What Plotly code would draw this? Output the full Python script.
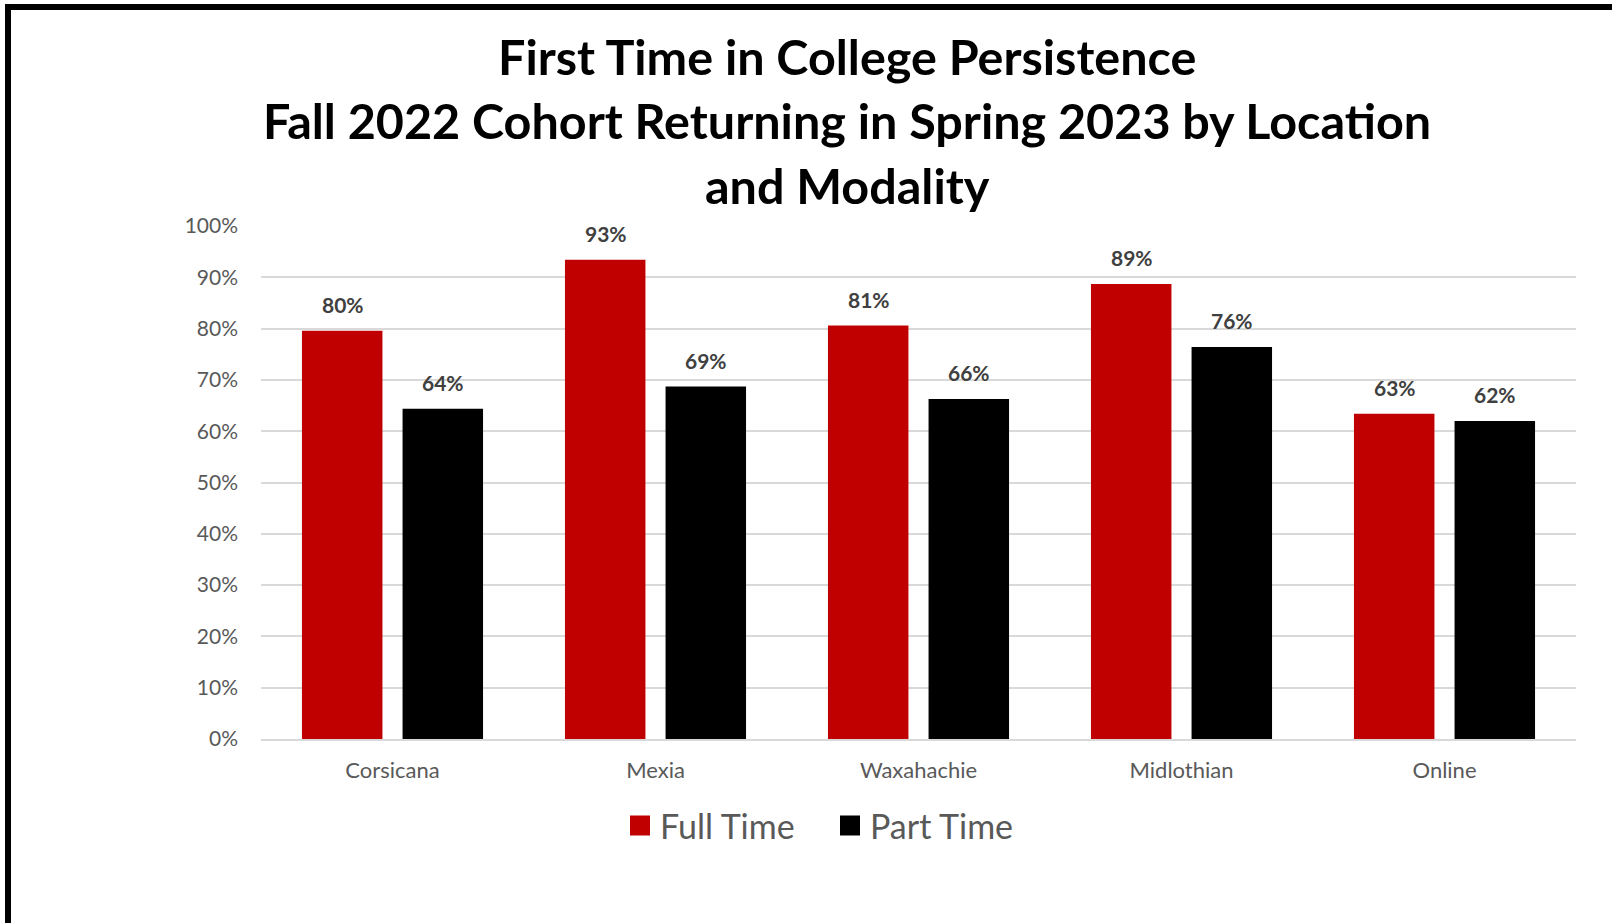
import plotly.graph_objects as go

# ---- data ----
locations = ["Corsicana", "Mexia", "Waxahachie", "Midlothian", "Online"]
full_time = [79.6, 93.4, 80.6, 88.7, 63.4]
part_time = [64.4, 68.7, 66.3, 76.4, 62.0]
series_names = ["Full Time", "Part Time"]
tick_vals = [0, 10, 20, 30, 40, 50, 60, 70, 80, 90, 100]
tick_text = [f"{v}%" for v in tick_vals]
title_lines = [
    "First Time in College Persistence",
    "Fall 2022 Cohort Returning in Spring 2023 by Location",
    "and Modality",
]

# ---- style ----
W, H = 1612, 923
ML, MR, MT, MB = 261, 36, 226, 184
PW = W - ML - MR
PH = H - MT - MB
RED = "#C00000"
BLK = "#000000"
FONT = "Lato"
GRID = "#d9d9d9"


def px_to_paper_x(px):
    return (px - ML) / PW


def px_to_paper_y(py):
    return (H - MB - py) / PH


fig = go.Figure()
for name, vals, col in [(series_names[0], full_time, RED), (series_names[1], part_time, BLK)]:
    fig.add_trace(go.Bar(
        x=locations, y=vals, name=name, marker=dict(color=col, line=dict(width=0)),
        showlegend=False, hoverinfo="skip",
    ))
    # legend entry with larger square
    fig.add_trace(go.Scatter(
        x=[None], y=[None], mode="markers", name=name,
        marker=dict(symbol="square", size=16, color=col, line=dict(color=col, width=4)),
        showlegend=True,
    ))

# data labels
for vals, shift in [(full_time, -50), (part_time, 50)]:
    for loc, v in zip(locations, vals):
        fig.add_annotation(
            x=loc, y=v, xref="x", yref="y", text=f"{v:.0f}%", showarrow=False,
            xshift=shift, yshift=12, yanchor="bottom",
            font=dict(family=FONT, size=21, color="#404040", weight="bold"),
        )

# title lines
for txt, yc in zip(title_lines, [56, 120, 185]):
    fig.add_annotation(
        x=px_to_paper_x(847), y=px_to_paper_y(yc), xref="paper", yref="paper",
        text=f"<b>{txt}</b>", showarrow=False, xanchor="center", yanchor="middle",
        font=dict(family=FONT, size=48.5, color="#000000"),
    )

# frame (top & left edges)
fig.add_shape(type="line", xref="paper", yref="paper",
              x0=px_to_paper_x(5), x1=px_to_paper_x(W + 5),
              y0=px_to_paper_y(7), y1=px_to_paper_y(7),
              line=dict(color="black", width=6))
fig.add_shape(type="line", xref="paper", yref="paper",
              x0=px_to_paper_x(8), x1=px_to_paper_x(8),
              y0=px_to_paper_y(4), y1=px_to_paper_y(H + 5),
              line=dict(color="black", width=6))

fig.update_layout(
    width=W, height=H,
    margin=dict(l=ML, r=MR, t=MT, b=MB, pad=0),
    paper_bgcolor="white", plot_bgcolor="white",
    barmode="group", bargap=0.235, bargroupgap=0.2,
    font=dict(family=FONT, color="#595959"),
    legend=dict(
        orientation="h", x=px_to_paper_x(830), xanchor="center",
        y=px_to_paper_y(826), yanchor="middle",
        font=dict(family=FONT, size=34, color="#595959"),
        itemsizing="trace", bgcolor="rgba(0,0,0,0)",
        entrywidth=165, entrywidthmode="pixels",
    ),
    xaxis=dict(
        showgrid=False, showline=True, linecolor=GRID, linewidth=2,
        ticks="", tickfont=dict(family=FONT, size=22, color="#595959"),
        ticklabelstandoff=11, fixedrange=True,
    ),
    yaxis=dict(
        range=[0, 100], tickvals=tick_vals, ticktext=tick_text,
        showgrid=True, gridcolor=GRID, gridwidth=1.5, zeroline=False,
        showline=False, ticks="",
        tickfont=dict(family=FONT, size=21, color="#595959"),
        ticklabelstandoff=22, fixedrange=True,
    ),
)

fig.write_html(
    "out.html",
    config={"displayModeBar": False},
    post_script="document.body.style.margin='0px';document.body.style.overflow='hidden';",
)
